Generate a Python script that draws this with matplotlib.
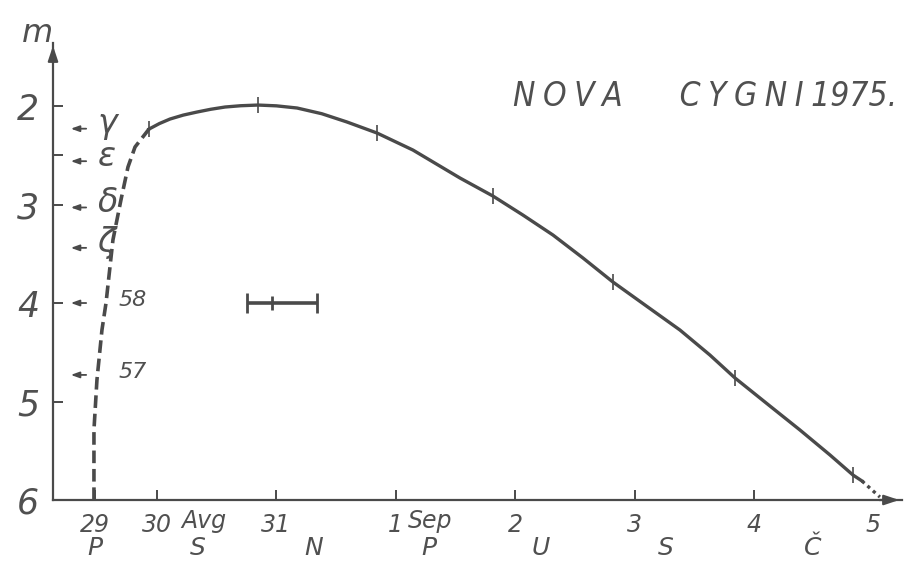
import matplotlib
matplotlib.use("Agg")
import matplotlib.pyplot as plt

# ******* time axis (30 = 30 Aug, 32 = 1 Sep ...), first day drawn short ********
day_ticks = [29.48, 30, 31, 32, 33, 34, 35, 36]
day_labels = ["29", "30", "31", "1", "2", "3", "4", "5"]
month_pos = [30.2, 32.1]
month_labels = ["Avg", "Sep"]
weekday_pos = [29.48, 30.34, 31.31, 32.28, 33.21, 34.26, 35.49]
weekday_labels = ["P", "S", "N", "P", "U", "S", "Č"]

# ******* light curve ********
rise_t = [29.472, 29.472, 29.497, 29.539, 29.573, 29.631, 29.698, 29.757, 29.816, 29.933]
rise_m = [6.0, 5.289, 4.782, 4.274, 4.0, 3.36, 2.954, 2.619, 2.416, 2.234]

main_t = [29.933, 30.02, 30.109, 30.22, 30.335, 30.45, 30.57, 30.7, 30.846, 31.0, 31.173,
          31.38, 31.591, 31.843, 32.144, 32.538,
          32.814, 33.065, 33.317, 33.568, 33.819, 34.087, 34.38, 34.631, 34.841, 35.134,
          35.385, 35.637, 35.829, 35.905]
main_m = [2.234, 2.178, 2.132, 2.092, 2.061, 2.033, 2.01, 1.997, 1.99, 1.998, 2.02,
          2.078, 2.162, 2.274, 2.447, 2.731,
          2.914, 3.107, 3.31, 3.543, 3.787, 4.02, 4.274, 4.528, 4.761, 5.046,
          5.289, 5.543, 5.746, 5.807]

tail_t = [35.905, 36.055]
tail_m = [5.807, 5.97]

# daily marks on the curve
mark_t = [29.933, 30.846, 31.843, 32.814, 33.819, 34.841, 35.829]
mark_m = [2.234, 1.99, 2.274, 2.914, 3.787, 4.761, 5.746]

# ******* comparison stars ********
star_m = [2.23, 2.56, 3.03, 3.44, 4.0, 4.73]
star_labels = ["γ", "ε", "δ", "ζ", "58", "57"]

# error bar
err_t = 30.96
err_m = 4.0
err_lo = 0.21
err_hi = 0.38

ink = "#4a4a4a"
txt = "#505050"

fig = plt.figure(figsize=(9.06, 5.62), dpi=100)
ax = fig.add_axes([53 / 906, 62 / 562, 849 / 906, 457 / 562])
ax.set_xlim(29.129, 36.24)
ax.set_ylim(6.0, 1.36)

ax.plot(rise_t, rise_m, color=ink, lw=2.6, linestyle=(0, (3.5, 1.6)), solid_capstyle="butt")
ax.plot(main_t, main_m, color=ink, lw=2.4, solid_joinstyle="round")
ax.plot(tail_t, tail_m, color=ink, lw=2.4, linestyle=(0, (1, 1.2)))
ax.plot(mark_t, mark_m, linestyle="none", marker="|", markersize=11, mew=1.2, color=ink)

ax.errorbar([err_t], [err_m], xerr=[[err_lo], [err_hi]], fmt="|", color=ink,
            markersize=10, mew=2, elinewidth=2.6, capsize=7, capthick=3.2)

for m, lab in zip(star_m, star_labels):
    ax.annotate("", xy=(29.255, m), xytext=(29.43, m),
                arrowprops=dict(arrowstyle="-|>,head_length=0.5,head_width=0.18",
                                color=ink, lw=1.3))
    if lab.isdigit():
        ax.text(29.68, m - 0.03, lab, fontsize=16, style="italic", color=txt,
                ha="left", va="center")
    else:
        ax.text(29.5, m - 0.05, lab, fontsize=24, style="italic", color=txt,
                ha="left", va="center")

# axes
for s in ["top", "right"]:
    ax.spines[s].set_visible(False)
for s in ["left", "bottom"]:
    ax.spines[s].set_color(ink)
    ax.spines[s].set_linewidth(1.6)
ax.annotate("", xy=(0, 1.0), xycoords="axes fraction", xytext=(0, 0.95),
            arrowprops=dict(arrowstyle="-|>,head_length=0.9,head_width=0.3", color=ink, lw=1.6))
ax.annotate("", xy=(1.0, 0), xycoords="axes fraction", xytext=(0.97, 0),
            arrowprops=dict(arrowstyle="-|>,head_length=0.9,head_width=0.3", color=ink, lw=1.6))

ax.set_yticks([2, 3, 4, 5, 6])
ax.set_yticklabels(["2", "3", "4", "5", "6"])
ax.set_yticks([2.5], minor=True)
ax.tick_params(axis="y", which="both", direction="in", length=7, width=1.4, color=ink,
               labelsize=25, labelcolor=txt, pad=10)
for t in ax.get_yticklabels():
    t.set_fontstyle("italic")

ax.set_xticks(day_ticks)
ax.set_xticklabels(day_labels)
ax.tick_params(axis="x", direction="in", length=7, width=1.4, color=ink,
               labelsize=17, labelcolor=txt, pad=9)
for t in ax.get_xticklabels():
    t.set_fontstyle("italic")
ax.xaxis.get_major_ticks()[-1].tick1line.set_visible(False)

trans = ax.get_xaxis_transform()
for x, lab in zip(month_pos, month_labels):
    ax.text(x, -0.046, lab, transform=trans, fontsize=17, style="italic", color=txt,
            ha="left", va="center")
for x, lab in zip(weekday_pos, weekday_labels):
    ax.text(x, -0.105, lab, transform=trans, fontsize=18, style="italic", color=txt,
            ha="center", va="center", clip_on=False)

fig.text(37 / 906, 1 - 33 / 562, "m", fontsize=23, style="italic", color=txt,
         ha="center", va="center")
sp = "\u2005"
fig.text(897 / 906, 1 - 97 / 562,
         sp.join("NOVA") + "      " + sp.join("CYGNI") + sp + "1975.", fontsize=24,
         style="italic", stretch="condensed", color=txt, ha="right", va="center")

fig.savefig("out.png", dpi=100, facecolor="white")
